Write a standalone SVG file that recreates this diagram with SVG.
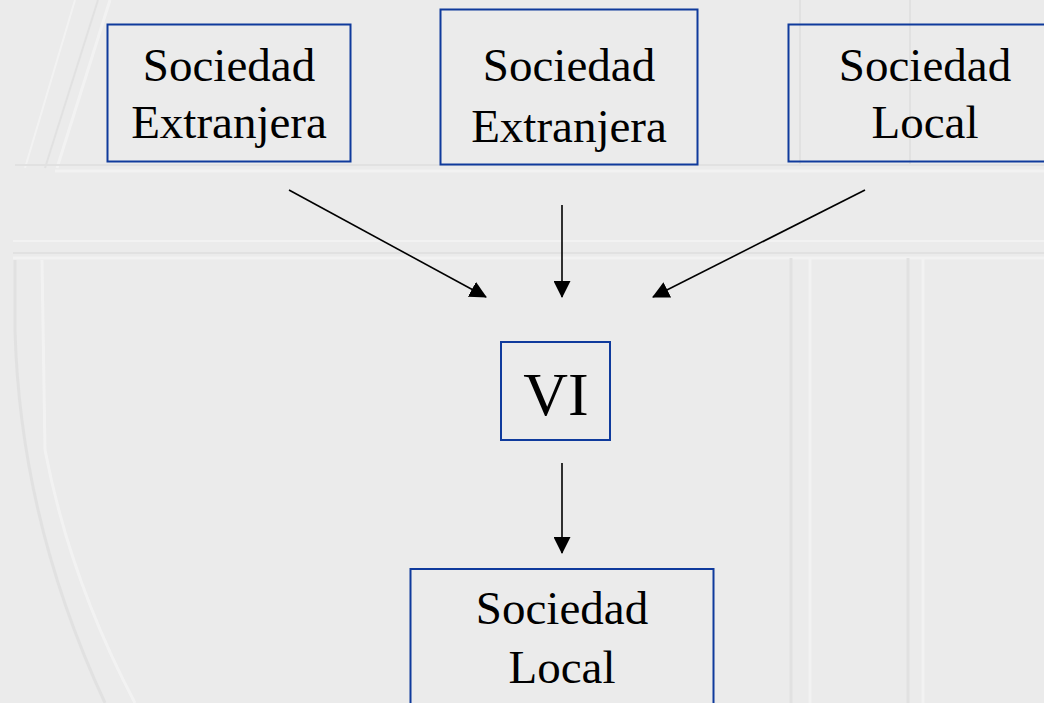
<svg xmlns="http://www.w3.org/2000/svg" width="1044" height="703" viewBox="0 0 1044 703">
<style>
.box{fill:none;stroke:#0f3a9c;stroke-width:2}
.t{font-family:"Liberation Serif","Times New Roman",serif;font-size:47px;fill:#000;text-anchor:middle}
.vi{font-size:62px}
.c{stroke:#000;stroke-width:1.6;fill:none;marker-end:url(#ah)}
.bgw{stroke:#f6f6f6;fill:none}
.bgg{stroke:#dedede;fill:none}
</style>
<defs>
<marker id="ah" markerWidth="17" markerHeight="17" refX="16" refY="8.5" orient="auto" markerUnits="userSpaceOnUse">
<path d="M0,0 L17,8.5 L0,17 Z" fill="#000"/>
</marker>
</defs>
<rect width="1044" height="703" fill="#ebebeb"/>
<g id="background" opacity="0.7">
<path class="bgw" stroke-width="3" d="M110,0 L57,168"/>
<path class="bgg" stroke-width="2" d="M98,0 L45,168"/>
<path class="bgw" stroke-width="2" d="M75,0 L25,168"/>
<path class="bgg" stroke-width="2" d="M15,165 L1044,165"/>
<path class="bgw" stroke-width="3" d="M55,171 L1044,171"/>
<path class="bgw" stroke-width="2" d="M13,241 L1044,241"/>
<path class="bgg" stroke-width="2" d="M13,253 L1044,253"/>
<path class="bgw" stroke-width="3" d="M13,258 L1044,258"/>
<path class="bgg" stroke-width="3" d="M791,258 L791,703"/>
<path class="bgw" stroke-width="3" d="M810,258 L810,703"/>
<path class="bgg" stroke-width="3" d="M908,258 L908,703"/>
<path class="bgw" stroke-width="3" d="M923,258 L923,703"/>
<path class="bgg" stroke-width="2" d="M800,0 L800,165"/>
<path class="bgg" stroke-width="2" d="M910,0 L910,165"/>
<path class="bgg" stroke-width="3" d="M15,260 L15,330 Q20,520 105,703"/>
<path class="bgw" stroke-width="3" d="M42,260 L45,450 Q70,580 135,703"/>
</g>
<g id="connectors">
<path class="c" d="M289,190 L486,297"/>
<path class="c" d="M562,205 L562,297"/>
<path class="c" d="M865,190 L653,297"/>
<path class="c" d="M562,463 L562,553"/>
</g>
<g id="n1">
<rect class="box" x="107.5" y="24.5" width="243" height="137"/>
<text class="t" x="229" y="81">Sociedad</text>
<text class="t" x="229" y="138">Extranjera</text>
</g>
<g id="n2">
<rect class="box" x="440.5" y="9.5" width="257" height="155"/>
<text class="t" x="569" y="81">Sociedad</text>
<text class="t" x="569" y="142">Extranjera</text>
</g>
<g id="n3">
<rect class="box" x="788.5" y="24.5" width="270" height="137"/>
<text class="t" x="925" y="81">Sociedad</text>
<text class="t" x="925" y="138">Local</text>
</g>
<g id="n4">
<rect class="box" x="501" y="342" width="109" height="98"/>
<text class="t vi" x="556" y="415">VI</text>
</g>
<g id="n5">
<rect class="box" x="410.5" y="569" width="303" height="150"/>
<text class="t" x="562" y="624">Sociedad</text>
<text class="t" x="562" y="683">Local</text>
</g>
</svg>
